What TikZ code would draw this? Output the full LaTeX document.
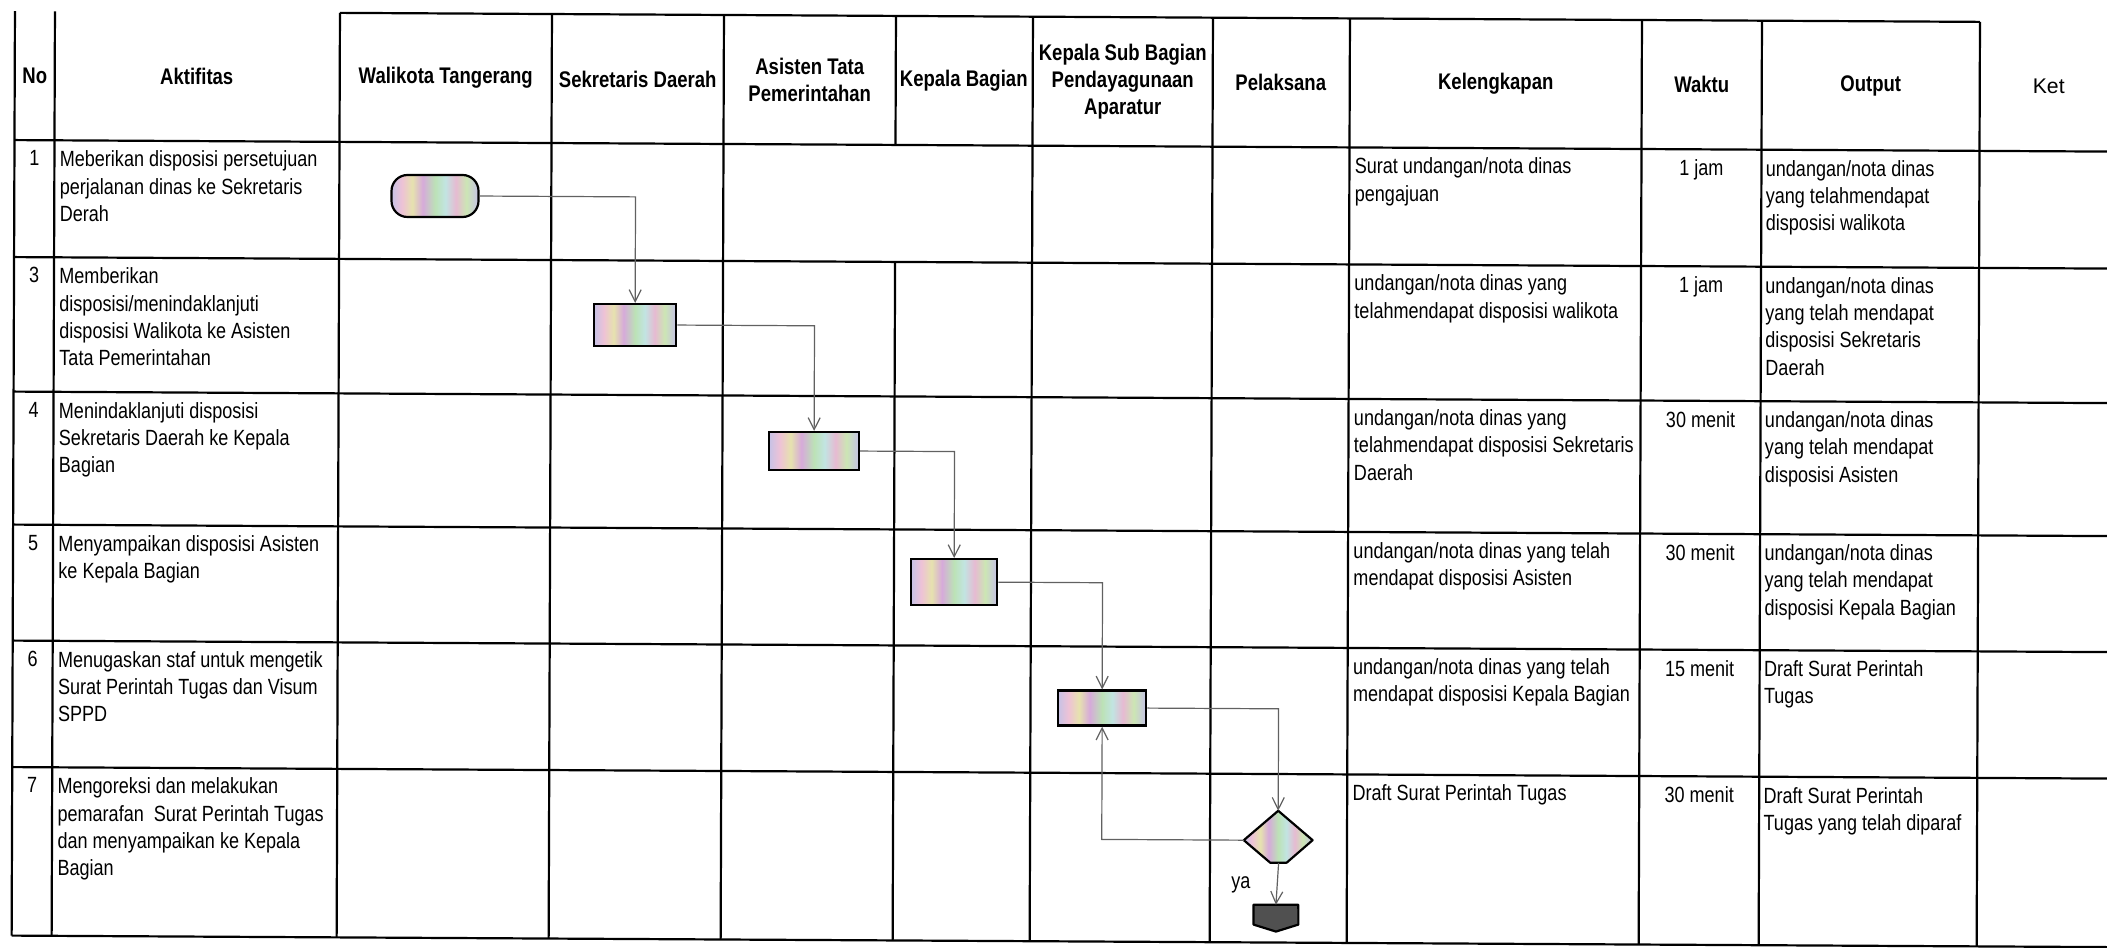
\documentclass[tikz,border=0pt]{standalone}
\usepackage{fontspec}
\setmainfont{Liberation Sans}[FakeStretch=0.82]
\newfontfamily\ketfont{Liberation Sans}
\usetikzlibrary{arrows.meta,shapes.geometric,calc}
\definecolor{rbA}{HTML}{C6C2E6}
\definecolor{rbB}{HTML}{EEC2D6}
\definecolor{rbC}{HTML}{E6E2AE}
\definecolor{rbD}{HTML}{D6AADA}
\definecolor{rbE}{HTML}{BCE2B6}
\definecolor{rbF}{HTML}{C2E4E2}
\definecolor{rbG}{HTML}{E6BAD2}
\definecolor{rbH}{HTML}{CCE6B4}
\definecolor{endgrey}{HTML}{505050}
\pgfdeclarehorizontalshading{rainbow}{100bp}{color(0bp)=(rbA); color(25bp)=(rbA); color(31bp)=(rbB); color(37bp)=(rbC); color(43bp)=(rbD); color(50bp)=(rbE); color(56bp)=(rbF); color(62bp)=(rbG); color(68bp)=(rbH); color(75bp)=(rbA); color(100bp)=(rbA)}
\begin{document}
\begin{tikzpicture}[x=0.5pt,y=-0.5pt,
  grid/.style={line width=1.1pt, black},
  txt/.style={anchor=north west, inner sep=0pt, align=left, font=\fontsize{11}{13.7}\selectfont},
  num/.style={anchor=north, inner sep=0pt, align=center, font=\fontsize{11}{13.7}\selectfont},
  hdr/.style={inner sep=0pt, align=center, font=\bfseries\fontsize{11.3}{13.5}\selectfont},
  flowbox/.style={rectangle, draw=black, line width=1.1pt, shading=rainbow, shade},
  conn/.style={draw=black!62, line width=0.6pt, -{Straight Barb[length=6pt,width=6pt]}},
]
\useasboundingbox (0,0) rectangle (2107,947);
% slight scan skew of the original sheet
\begin{scope}[cm={1,-0.0055,0.0036,1,(0,0)}]

% ---------- table grid ----------
\draw[grid] (15,11) -- (15,935.5);
\draw[grid] (55,11) -- (55,935.5);
\draw[grid] (340,11) -- (1980,11);
\foreach \x in {340,552,724,1033,1213,1350,1642,1762,1980}
  \draw[grid] (\x,11) -- (\x,935.5);
\draw[grid] (896,11) -- (896,140);
\draw[grid] (896,257) -- (896,935.5);
\foreach \y in {140,257,391.5,524.5,640.5,767,935.5}
  \draw[grid] (15,\y) -- (2125,\y);

% ---------- header ----------
\node[hdr] (hNo)  at (35,75.5)   {No};
\node[hdr] (hAkt) at (197,75.5)  {Aktifitas};
\node[hdr] (hWal) at (446,75.5)  {Walikota Tangerang};
\node[hdr] (hSek) at (638,75.5)  {Sekretaris Daerah};
\node[hdr] (hAsi) at (810,75.5)  {Asisten Tata\\Pemerintahan};
\node[hdr] (hKB)  at (964,75.5)  {Kepala Bagian};
\node[hdr] (hKSB) at (1123,75.5) {Kepala Sub Bagian\\Pendayagunaan\\Aparatur};
\node[hdr] (hPel) at (1281,75.5) {Pelaksana};
\node[hdr] (hKel) at (1496,75.5) {Kelengkapan};
\node[hdr] (hWak) at (1702,75.5) {Waktu};
\node[hdr] (hOut) at (1871,75.5) {Output};
\node[inner sep=0pt, font=\ketfont\fontsize{10.6}{12}\selectfont] (hKet) at (2049,75.5) {Ket};

% ---------- row 1 ----------
\node[num] (n1) at (35,150) {1};
\node[txt] (a1) at (60,150) {Meberikan disposisi persetujuan\\perjalanan dinas ke Sekretaris\\Derah};
\node[txt] (k1) at (1355,150) {Surat undangan/nota dinas\\pengajuan};
\node[num] (w1) at (1702,150) {1 jam};
\node[txt] (o1) at (1766,150) {undangan/nota dinas\\yang telahmendapat\\disposisi walikota};

% ---------- row 3 ----------
\node[num] (n3) at (35,267) {3};
\node[txt] (a3) at (60,267) {Memberikan\\disposisi/menindaklanjuti\\disposisi Walikota ke Asisten\\Tata Pemerintahan};
\node[txt] (k3) at (1355,267) {undangan/nota dinas yang\\telahmendapat disposisi walikota};
\node[num] (w3) at (1702,267) {1 jam};
\node[txt] (o3) at (1766,267) {undangan/nota dinas\\yang telah mendapat\\disposisi Sekretaris\\Daerah};

% ---------- row 4 ----------
\node[num] (n4) at (35,401.5) {4};
\node[txt] (a4) at (60,401.5) {Menindaklanjuti disposisi\\Sekretaris Daerah ke Kepala\\Bagian};
\node[txt] (k4) at (1355,401.5) {undangan/nota dinas yang\\telahmendapat disposisi Sekretaris\\Daerah};
\node[num] (w4) at (1702,401.5) {30 menit};
\node[txt] (o4) at (1766,401.5) {undangan/nota dinas\\yang telah mendapat\\disposisi Asisten};

% ---------- row 5 ----------
\node[num] (n5) at (35,534.5) {5};
\node[txt] (a5) at (60,534.5) {Menyampaikan disposisi Asisten\\ke Kepala Bagian};
\node[txt] (k5) at (1355,534.5) {undangan/nota dinas yang telah\\mendapat disposisi Asisten};
\node[num] (w5) at (1702,534.5) {30 menit};
\node[txt] (o5) at (1766,534.5) {undangan/nota dinas\\yang telah mendapat\\disposisi Kepala Bagian};

% ---------- row 6 ----------
\node[num] (n6) at (35,650.5) {6};
\node[txt] (a6) at (60,650.5) {Menugaskan staf untuk mengetik\\Surat Perintah Tugas dan Visum\\SPPD};
\node[txt] (k6) at (1355,650.5) {undangan/nota dinas yang telah\\mendapat disposisi Kepala Bagian};
\node[num] (w6) at (1702,650.5) {15 menit};
\node[txt] (o6) at (1766,650.5) {Draft Surat Perintah\\Tugas};

% ---------- row 7 ----------
\node[num] (n7) at (35,777) {7};
\node[txt] (a7) at (60,777) {Mengoreksi dan melakukan\\pemarafan\ \ Surat Perintah Tugas\\dan menyampaikan ke Kepala\\Bagian};
\node[txt] (k7) at (1355,777) {Draft Surat Perintah Tugas};
\node[num] (w7) at (1702,777) {30 menit};
\node[txt] (o7) at (1766,777) {Draft Surat Perintah\\Tugas yang telah diparaf};

% ---------- flow shapes ----------
\node[flowbox, rounded corners=8pt, minimum width=43.5pt, minimum height=21pt] (term) at (435.7,193.6) {};
\node[flowbox, minimum width=41pt, minimum height=21pt] (box1) at (636.2,321.5) {};
\node[flowbox, minimum width=45pt, minimum height=19pt] (box2) at (815.6,446.5) {};
\node[flowbox, minimum width=43pt, minimum height=23pt] (box3) at (956.1,576.8) {};
\node[flowbox, minimum width=44pt, minimum height=17.5pt] (box4) at (1104.5,701.9) {};
\node[diamond, draw=none, inner sep=0pt, minimum width=34pt, minimum height=29pt] (dec) at (1281,833) {};
\coordinate (decbr) at ($(dec.east)!0.76!(dec.south)$);
\coordinate (decbl) at ($(dec.west)!0.76!(dec.south)$);
\coordinate (decb) at ($(decbl)!0.5!(decbr)$);
\shade[shading=rainbow, draw=black, line width=1.1pt, line join=round]
  (dec.north) -- (dec.east) -- (decbr) -- (decbl) -- (dec.west) -- cycle;
\node[rectangle, draw=none, inner sep=0pt, minimum width=22pt, minimum height=13pt] (endc) at (1279,911) {};
\draw[line width=1.1pt, fill=endgrey, line join=round]
  (endc.north west) -- (endc.north east) -- ([yshift=3.5pt]endc.south east)
  -- (endc.south) -- ([yshift=3.5pt]endc.south west) -- cycle;
\node[inner sep=0pt, font=\fontsize{11}{13.7}\selectfont] (ya) at (1244,878) {ya};

% ---------- connectors ----------
\draw[conn] (term.east) -| (box1.north);
\draw[conn] (box1.east) -| (box2.north);
\draw[conn] (box2.east) -| (box3.north);
\draw[conn] (box3.east) -| (box4.north);
\draw[conn] (box4.east) -| (dec.north);
\draw[conn] (dec.west) -| (box4.south);
\draw[conn] (decb) -- (endc.north);
\end{scope}
\end{tikzpicture}
\end{document}
